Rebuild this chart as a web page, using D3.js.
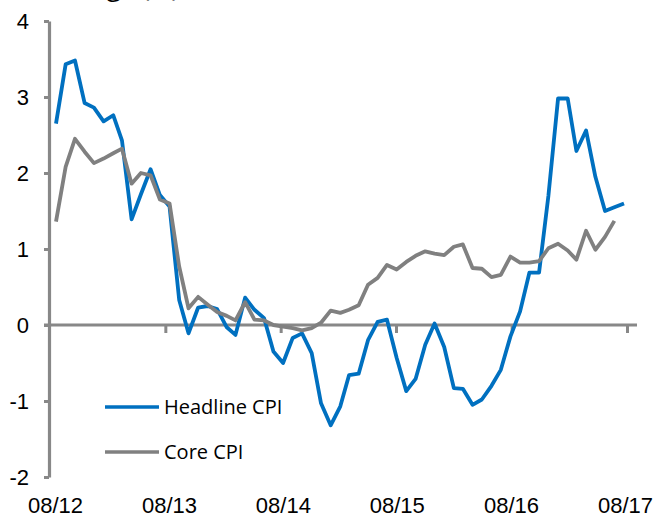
<!DOCTYPE html>
<html>
<head>
<meta charset="utf-8">
<script src="https://cdn.jsdelivr.net/npm/d3@7"></script>
<style>
	body { margin: 0; background: #fff; }
	svg { display: block; font-family: "Open Sans", sans-serif; }
	.axis text { fill: #000; }
</style>
</head>
<body>
<svg id="chart" width="655" height="518"></svg>
<script>
// monthly, 08/12 .. 08/17
var startMonth = new Date(2012, 7, 1);
var endMonth = new Date(2017, 7, 1);

var headline = [
	2.65, 3.43, 3.48, 2.92, 2.86, 2.68, 2.76, 2.43, 1.39, 1.72,
	2.05, 1.71, 1.56, 0.33, -0.11, 0.23, 0.25, 0.21, -0.03, -0.13,
	0.36, 0.20, 0.09, -0.35, -0.50, -0.17, -0.11, -0.37, -1.03, -1.32,
	-1.07, -0.66, -0.64, -0.20, 0.04, 0.07, -0.43, -0.87, -0.71, -0.26,
	0.02, -0.29, -0.83, -0.84, -1.05, -0.98, -0.80, -0.59, -0.15, 0.18,
	0.69, 0.69, 1.70, 2.98, 2.98, 2.29, 2.56, 1.95, 1.50, 1.55,
	1.60
];
var core = [
	1.36, 2.08, 2.45, 2.28, 2.13, 2.19, 2.26, 2.32, 1.86, 2.00,
	1.97, 1.65, 1.60, 0.77, 0.22, 0.37, 0.27, 0.17, 0.12, 0.06,
	0.30, 0.07, 0.06, 0.00, -0.02, -0.04, -0.07, -0.04, 0.03, 0.19,
	0.16, 0.20, 0.26, 0.53, 0.62, 0.79, 0.73, 0.83, 0.91, 0.97,
	0.94, 0.92, 1.03, 1.06, 0.75, 0.74, 0.63, 0.66, 0.90, 0.82,
	0.82, 0.84, 1.01, 1.07, 0.98, 0.86, 1.24, 0.99, 1.16, 1.37
];
var yTicks = [-2, -1, 0, 1, 2, 3, 4];
var xTicks = [2012, 2013, 2014, 2015, 2016, 2017];
var seriesNames = ["Headline CPI", "Core CPI"];
var colors = ["#0070C0", "#808080"];

var svg = d3.select("#chart");

function monthOf(i) { return d3.timeMonth.offset(startMonth, i); }

// points, tick marks and tick labels sit slightly apart in the original
var x = d3.scaleTime().domain([startMonth, endMonth]).range([56, 624]);
var xTickScale = d3.scaleTime().domain([startMonth, endMonth]).range([50, 627]);
var xLabelScale = d3.scaleTime().domain([startMonth, endMonth]).range([55, 625]);
var y = d3.scaleLinear().domain([-2, 4]).range([477, 21]);

var tickDates = xTicks.map(function(yr) { return new Date(yr, 7, 1); });

// cut-off title at the top edge
svg.append("text")
	.attr("x", 2)
	.attr("y", -4)
	.style("font-size", "26px")
	.text("CPI change (%)");

// x axis at zero
var xa = svg.append("g")
	.attr("class", "axis")
	.attr("transform", "translate(0," + y(0) + ")")
	.call(d3.axisBottom(xTickScale).tickValues(tickDates.slice(1)).tickFormat("").tickSize(8).tickSizeOuter(0));
xa.select(".domain").remove();
xa.append("line")
	.attr("x1", 44).attr("x2", 637)
	.attr("stroke", "#888").attr("stroke-width", 3.2);
xa.selectAll(".tick line").attr("stroke", "#888").attr("stroke-width", 3);

// x labels along the bottom
var xl = svg.append("g")
	.attr("class", "axis")
	.attr("transform", "translate(0,494)")
	.call(d3.axisBottom(xLabelScale).tickValues(tickDates).tickFormat(d3.timeFormat("%m/%y")).tickSize(0).tickPadding(3));
xl.select(".domain").remove();
xl.selectAll("text").style("font-size", "22px");

// y axis (plain hyphen for negatives, as in the original)
var ya = svg.append("g")
	.attr("class", "axis")
	.attr("transform", "translate(49,0)")
	.call(d3.axisLeft(y).tickValues(yTicks).tickFormat(function(d) { return String(d); }).tickSize(5).tickSizeOuter(0).tickPadding(15));
ya.select(".domain").attr("stroke", "#888").attr("stroke-width", 3.2);
ya.selectAll(".tick line").attr("stroke", "#888").attr("stroke-width", 3);
ya.selectAll("text").style("font-size", "22px");

var line = d3.line()
	.x(function(d, i) { return x(monthOf(i)); })
	.y(function(d) { return y(d); });

svg.append("path")
	.datum(headline)
	.attr("fill", "none")
	.attr("stroke", colors[0])
	.attr("stroke-width", 3.8)
	.attr("stroke-linejoin", "round")
	.attr("d", line);

svg.append("path")
	.datum(core)
	.attr("fill", "none")
	.attr("stroke", colors[1])
	.attr("stroke-width", 3.8)
	.attr("stroke-linejoin", "round")
	.attr("d", line);

// legend
var legend = svg.append("g").selectAll("g")
	.data(seriesNames)
	.enter().append("g")
		.attr("transform", function(d, i) { return "translate(105," + (407 + i * 45) + ")"; });
legend.append("line")
	.attr("x1", 0).attr("x2", 54)
	.attr("stroke", function(d, i) { return colors[i]; })
	.attr("stroke-width", 3.5);
legend.append("text")
	.attr("x", 59)
	.attr("dy", "0.35em")
	.style("font-size", "20px")
	.text(function(d) { return d; });
</script>
</body>
</html>
